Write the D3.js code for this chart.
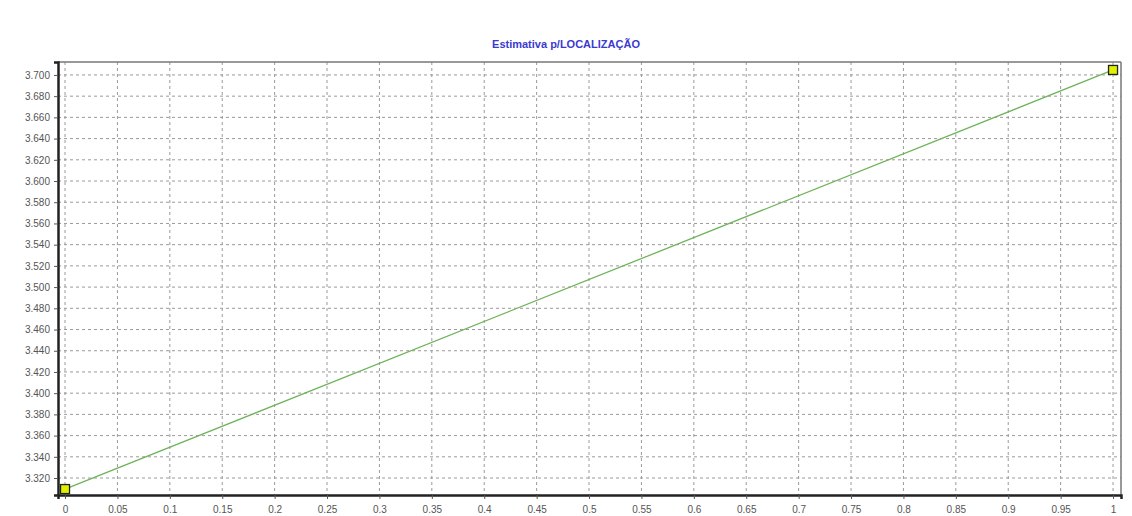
<!DOCTYPE html>
<html><head><meta charset="utf-8">
<script src="https://cdn.jsdelivr.net/npm/d3@7"></script>
<style>body{margin:0;background:#fff;}svg{display:block;}</style>
</head><body>
<svg id="c" width="1132" height="516"></svg>
<script>
const title = "Estimativa p/LOCALIZAÇÃO";
const xValues = [0, 1];
const yValues = [3.3096, 3.7047];
const xTicks = [0,0.05,0.1,0.15,0.2,0.25,0.3,0.35,0.4,0.45,0.5,0.55,0.6,0.65,0.7,0.75,0.8,0.85,0.9,0.95,1];
const yTicks = [3.32,3.34,3.36,3.38,3.40,3.42,3.44,3.46,3.48,3.50,3.52,3.54,3.56,3.58,3.60,3.62,3.64,3.66,3.68,3.70];

const svg = d3.select("#c");
const L = 58, R = 1121, T = 62, B = 495;
const x = d3.scaleLinear().domain([-0.0067, 1.0076]).range([L, R]);
const y = d3.scaleLinear().domain([3.304, 3.7122]).range([B, T]);

// grid
svg.append("g").selectAll("line").data(xTicks).join("line")
  .attr("x1", d => x(d)).attr("x2", d => x(d)).attr("y1", T).attr("y2", B)
  .attr("stroke", "#9a9a9a").attr("stroke-dasharray", "3,3").attr("stroke-width", 1);
svg.append("g").selectAll("line").data(yTicks).join("line")
  .attr("x1", L).attr("x2", R).attr("y1", d => y(d)).attr("y2", d => y(d))
  .attr("stroke", "#9a9a9a").attr("stroke-dasharray", "3,3").attr("stroke-width", 1);

// frame top/right
svg.append("line").attr("x1", L).attr("x2", R).attr("y1", T).attr("y2", T).attr("stroke", "#777").attr("stroke-width", 1.5);
svg.append("line").attr("x1", R).attr("x2", R).attr("y1", T).attr("y2", B).attr("stroke", "#777").attr("stroke-width", 1.5);

// axes
const yAxis = d3.axisLeft(y).tickValues(yTicks).tickFormat(d3.format(".3f")).tickSize(4).tickPadding(4);
const gy = svg.append("g").attr("transform", `translate(${L},0)`).call(yAxis);
const xAxis = d3.axisBottom(x).tickValues(xTicks).tickFormat(d => d === 0 || d === 1 ? String(d) : String(+d.toFixed(2))).tickSize(4).tickPadding(7);
const gx = svg.append("g").attr("transform", `translate(0,${B})`).call(xAxis);
[gx, gy].forEach(g => {
  g.select(".domain").attr("stroke", "#222").attr("stroke-width", 2.5);
  g.selectAll(".tick line").attr("stroke", "#555");
  g.selectAll(".tick text").attr("fill", "#555").attr("font-family", "Arial, Liberation Sans, sans-serif").attr("font-size", 10);
});

// line
svg.append("path").datum(xValues.map((d, i) => [d, yValues[i]]))
  .attr("d", d3.line().x(d => x(d[0])).y(d => y(d[1])))
  .attr("fill", "none").attr("stroke", "#6fb35a").attr("stroke-width", 1.3);

// markers
svg.append("g").selectAll("rect").data(xValues.map((d, i) => [d, yValues[i]])).join("rect")
  .attr("x", d => x(d[0]) - 4.5).attr("y", d => y(d[1]) - 4.5).attr("width", 9).attr("height", 9)
  .attr("fill", "#e0f000").attr("stroke", "#222").attr("stroke-width", 1.3);

// title
svg.append("text").attr("x", 566).attr("y", 48).attr("text-anchor", "middle")
  .attr("font-family", "Arial, Liberation Sans, sans-serif").attr("font-size", 11).attr("font-weight", "bold")
  .attr("fill", "#3a3ad0").text(title);
</script>
</body></html>
